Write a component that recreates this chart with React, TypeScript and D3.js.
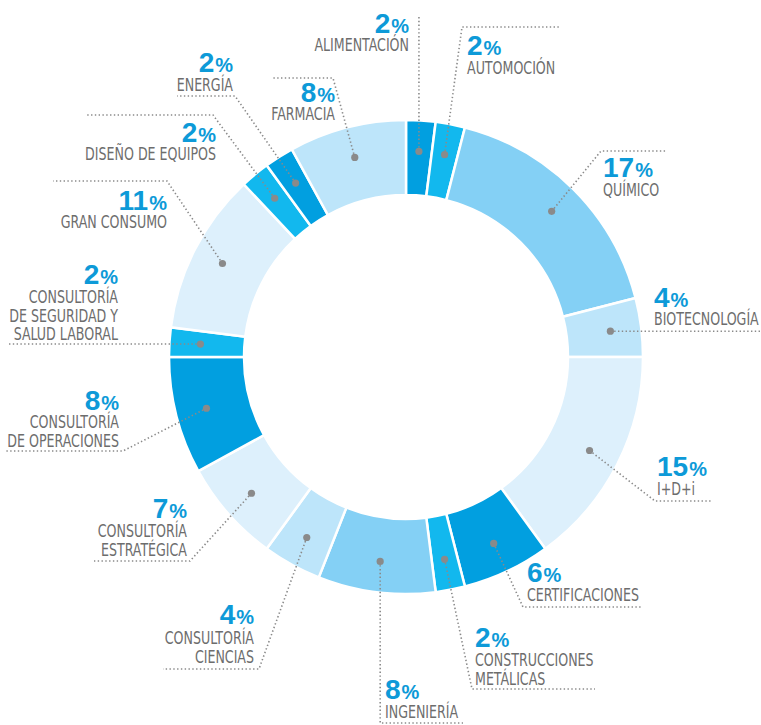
import * as d3 from "d3";
import React from "react";

// sectors, clockwise from 12 o'clock
const categories = [
  "ALIMENTACIÓN",
  "AUTOMOCIÓN",
  "QUÍMICO",
  "BIOTECNOLOGÍA",
  "I+D+i",
  "CERTIFICACIONES",
  "CONSTRUCCIONES|METÁLICAS",
  "INGENIERÍA",
  "CONSULTORÍA|CIENCIAS",
  "CONSULTORÍA|ESTRATÉGICA",
  "CONSULTORÍA|DE OPERACIONES",
  "CONSULTORÍA|DE SEGURIDAD Y|SALUD LABORAL",
  "GRAN CONSUMO",
  "DISEÑO DE EQUIPOS",
  "ENERGÍA",
  "FARMACIA",
];
const shares = [2, 2, 17, 4, 15, 6, 2, 8, 4, 7, 8, 2, 11, 2, 2, 8];

const DARK = "#019fe0";
const MID = "#12b8ee";
const LMID = "#84d0f5";
const LIGHT = "#bde5fa";
const VLIGHT = "#ddf0fc";
const sliceColors = [
  DARK, MID, LMID, LIGHT, VLIGHT, DARK, MID, LMID,
  LIGHT, VLIGHT, DARK, MID, VLIGHT, MID, DARK, LIGHT,
];

// label placement: elbow of the leader line, end of horizontal run, text anchor
type LabelPos = {
  elbow: [number, number] | null;
  endX: number | null;
  side: "start" | "end";
  tx: number;
  numY: number;
  nameY: number;
};
const labelLayout: LabelPos[] = [
  { elbow: [420, 15], endX: null, side: "end", tx: 409, numY: 33, nameY: 51 },
  { elbow: [462, 27], endX: 560, side: "start", tx: 467, numY: 55, nameY: 74 },
  { elbow: [601, 151], endX: 667, side: "start", tx: 603, numY: 177, nameY: 196 },
  { elbow: null, endX: 761, side: "start", tx: 654, numY: 307, nameY: 325 },
  { elbow: [655, 501], endX: 712, side: "start", tx: 657, numY: 476, nameY: 495 },
  { elbow: [523, 607], endX: 643, side: "start", tx: 527, numY: 582, nameY: 601 },
  { elbow: [472, 689], endX: 595, side: "start", tx: 475, numY: 647, nameY: 666 },
  { elbow: [379, 723], endX: 463, side: "start", tx: 385, numY: 699, nameY: 718 },
  { elbow: [259, 669], endX: 163, side: "end", tx: 254, numY: 624, nameY: 644 },
  { elbow: [190, 561], endX: 94, side: "end", tx: 187, numY: 518, nameY: 537 },
  { elbow: [123, 451], endX: 6, side: "end", tx: 119, numY: 410, nameY: 428 },
  { elbow: null, endX: 8, side: "end", tx: 118, numY: 284, nameY: 303 },
  { elbow: [167, 181], endX: 53, side: "end", tx: 167, numY: 210, nameY: 228 },
  { elbow: [213, 115], endX: 86, side: "end", tx: 216, numY: 142, nameY: 160 },
  { elbow: [235, 96], endX: 177, side: "end", tx: 233, numY: 72, nameY: 91 },
  { elbow: [333, 78], endX: 273, side: "end", tx: 335, numY: 102, nameY: 120 },
];

const W = 761;
const H = 725;
const cx = 406;
const cy = 357;
const R_OUT = 237;
const R_IN = 162;
const R_DOT = 206;

const NUM_BLUE = "#0d9ad8";
const TEXT_GRAY = "#6d6d6d";
const LINE_GRAY = "#8a8a8a";
const NARROW = "'DejaVu Sans Condensed', 'Liberation Sans Narrow', sans-serif";
const BOLD = "'Liberation Sans', Arial, sans-serif";

const App: React.FC = () => {
  const pie = d3
    .pie<number>()
    .sort(null)
    .value((d) => d)
    .startAngle(0)
    .endAngle(2 * Math.PI);
  const arcs = pie(shares);

  const arc = d3.arc<d3.PieArcDatum<number>>().innerRadius(R_IN).outerRadius(R_OUT);
  const dotArc = d3.arc<d3.PieArcDatum<number>>().innerRadius(R_DOT).outerRadius(R_DOT);

  return (
    <svg
      width={W}
      height={H}
      style={{ position: "absolute", left: 0, top: 0, background: "#fff" }}
    >
      <g transform={`translate(${cx},${cy})`}>
        {arcs.map((a, i) => (
          <path
            key={i}
            d={arc(a) || ""}
            fill={sliceColors[i]}
            stroke="#fff"
            strokeWidth={2.5}
          />
        ))}
      </g>
      {arcs.map((a, i) => {
        const [dx, dy] = dotArc.centroid(a);
        const px = cx + dx;
        const py = cy + dy;
        const lay = labelLayout[i];
        const pts: [number, number][] = [[px, py]];
        if (lay.elbow) {
          const ex = i === 0 || i === 7 ? px : lay.elbow[0];
          pts.push([ex, lay.elbow[1]]);
          if (lay.endX !== null) pts.push([lay.endX, lay.elbow[1]]);
        } else if (lay.endX !== null) {
          pts.push([lay.endX, py]);
        }
        const line = d3.line()(pts) || "";
        const lines = categories[i].split("|");
        return (
          <g key={i}>
            <path
              d={line}
              fill="none"
              stroke={LINE_GRAY}
              strokeWidth={1.6}
              strokeDasharray="1.4 2.4"
            />
            <circle cx={px} cy={py} r={3.6} fill={LINE_GRAY} />
            <text
              x={lay.tx}
              y={lay.numY}
              textAnchor={lay.side}
              fill={NUM_BLUE}
              fontFamily={BOLD}
              fontWeight="bold"
              fontSize={28}
            >
              {shares[i]}
              <tspan fontSize={20} dx={1}>%</tspan>
            </text>
            {lines.map((t, j) => (
              <text
                key={j}
                transform={`translate(${lay.tx},${lay.nameY + j * 18.5}) scale(0.78,1)`}
                textAnchor={lay.side}
                fill={TEXT_GRAY}
                fontFamily={NARROW}
                fontSize={18}
              >
                {t}
              </text>
            ))}
          </g>
        );
      })}
    </svg>
  );
};

export default App;
